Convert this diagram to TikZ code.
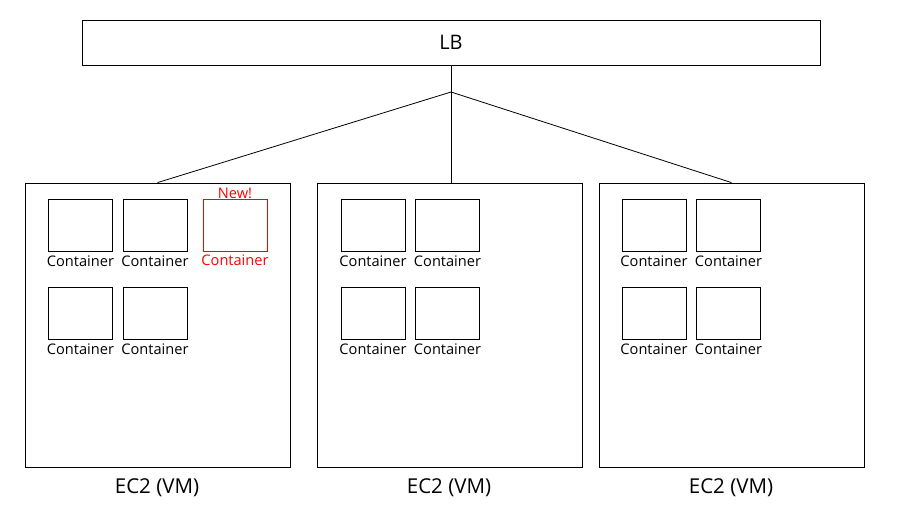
\documentclass[tikz,border=0pt]{standalone}
\usepackage{fontspec}
\setmainfont{Open Sans}
\usetikzlibrary{positioning}

\tikzset{
  vmbox/.style={draw, minimum width=265pt, minimum height=284pt, inner sep=0pt},
  ctbox/.style={draw, minimum width=64pt, minimum height=52pt, inner sep=0pt},
  ctlabel/.style={font=\fontsize{14.6}{15}\selectfont, inner sep=0pt},
  vmlabel/.style={font=\fontsize{20.5}{22}\selectfont, inner sep=0pt},
}

\begin{document}
\begin{tikzpicture}[x=1pt, y=-1pt, line width=0.8pt]
      \useasboundingbox (0,0) rectangle (899,520);
      \node[draw, minimum width=738pt, minimum height=45pt, font=\fontsize{20}{22}\selectfont] (lb) at (451,42.5) {LB};
      % the three VMs
      \node[vmbox] (vm1) at (157.5,325) {};
      \node[vmbox] (vm2) at (449.5,325) {};
      \node[vmbox] (vm3) at (731.5,325) {};
      \node[vmlabel] (ec1) at (157,488) {EC2 (VM)};
      \node[vmlabel] (ec2) at (449,488) {EC2 (VM)};
      \node[vmlabel] (ec3) at (731,488) {EC2 (VM)};
      % load balancer links
      \coordinate (hub) at (451,92);
      \draw (lb.south) -- (lb.south |- vm2.north);
      \draw (hub) -- (vm1.north);
      \draw (hub) -- (vm3.north);
      % containers on vm1
      \node[ctbox] (c11) at (80.5,225) {};
      \node[ctbox] (c12) at (155,225) {};
      \node[ctbox, draw=red, line width=0.5pt] (c13) at (235,225) {};
      \node[ctbox] (c14) at (80.5,313.5) {};
      \node[ctbox] (c15) at (155,313) {};
      \node[ctlabel, below=3.5pt of c11] {Container};
      \node[ctlabel, below=3.5pt of c12] {Container};
      \node[ctlabel, below=3.5pt of c13, text=red] {Container};
      \node[ctlabel, below=3.5pt of c14] {Container};
      \node[ctlabel, below=3.5pt of c15] {Container};
      \node[ctlabel, above=0pt of c13, text=red] (new) {New!};
      % containers on vm2
      \node[ctbox] (c21) at (373,225) {};
      \node[ctbox] (c22) at (447.5,225) {};
      \node[ctbox] (c23) at (373,313.5) {};
      \node[ctbox] (c24) at (447.5,313) {};
      \node[ctlabel, below=3.5pt of c21] {Container};
      \node[ctlabel, below=3.5pt of c22] {Container};
      \node[ctlabel, below=3.5pt of c23] {Container};
      \node[ctlabel, below=3.5pt of c24] {Container};
      % containers on vm3
      \node[ctbox] (c31) at (654,225) {};
      \node[ctbox] (c32) at (728.5,225) {};
      \node[ctbox] (c33) at (654,313.5) {};
      \node[ctbox] (c34) at (728.5,313) {};
      \node[ctlabel, below=3.5pt of c31] {Container};
      \node[ctlabel, below=3.5pt of c32] {Container};
      \node[ctlabel, below=3.5pt of c33] {Container};
      \node[ctlabel, below=3.5pt of c34] {Container};
\end{tikzpicture}
\end{document}
